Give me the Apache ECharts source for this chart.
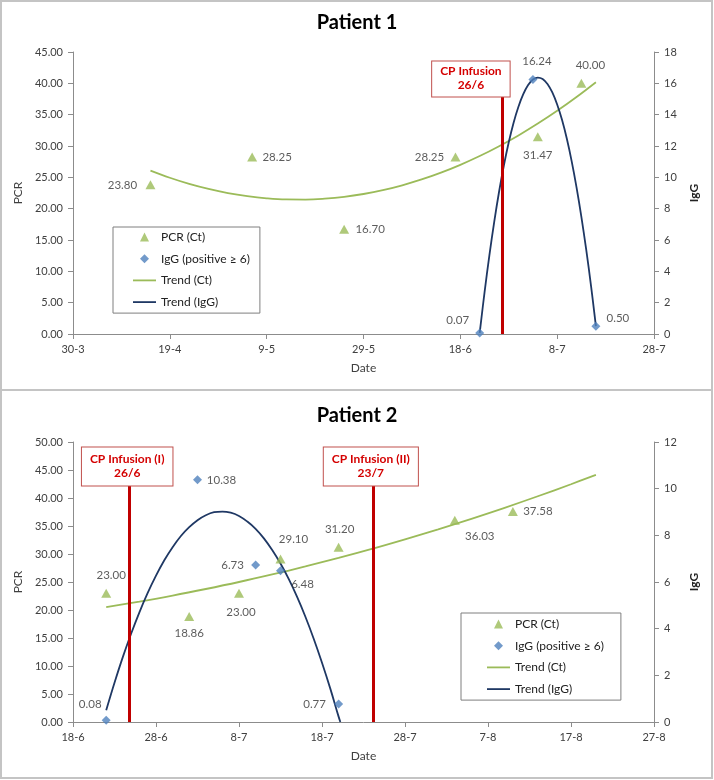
<!DOCTYPE html>
<html><head><meta charset="utf-8">
<script src="https://cdn.jsdelivr.net/npm/echarts@6/dist/echarts.min.js"></script>
<style>
html,body{margin:0;padding:0;background:#fff;width:714px;height:780px;overflow:hidden}
#c1,#c2{position:absolute;left:0;width:714px;height:390px}
#c1{top:0}#c2{top:390px}
.frame{position:absolute;border:2px solid #c4c4c4;box-sizing:border-box;pointer-events:none}
</style></head><body>
<div id="c1"></div><div id="c2"></div>
<div class="frame" style="left:0;top:0;width:713px;height:391px"></div>
<div class="frame" style="left:0;top:389px;width:713px;height:390px"></div>
<script>
const FONT = 'Lato, "Liberation Sans", sans-serif';
const SERIES_NAMES = ['PCR (Ct)', 'IgG (positive \u2265 6)', 'Trend (Ct)', 'Trend (IgG)'];

// ---------------- Patient 1 ----------------
const p1Title = 'Patient 1';
const p1AxisStart = '2020-03-30';
const p1AxisEnd = '2020-07-28';
const p1TickDays = 20;
const p1PcrMax = 45, p1PcrStep = 5, p1IggMax = 18, p1IggStep = 2;
const p1PcrDates = ['2020-04-15', '2020-05-06', '2020-05-25', '2020-06-17', '2020-07-04', '2020-07-13'];
const p1PcrValues = [23.80, 28.25, 16.70, 28.25, 31.47, 40.00];
const p1IggDates = ['2020-06-22', '2020-07-03', '2020-07-16'];
const p1IggValues = [0.07, 16.24, 0.50];
const p1TrendCtDates = ['2020-04-15', '2020-04-19', '2020-04-23', '2020-04-27', '2020-05-01', '2020-05-05', '2020-05-09', '2020-05-13', '2020-05-17', '2020-05-21', '2020-05-25', '2020-05-29', '2020-06-02', '2020-06-06', '2020-06-10', '2020-06-14', '2020-06-18', '2020-06-22', '2020-06-26', '2020-06-30', '2020-07-04', '2020-07-08', '2020-07-12', '2020-07-16'];
const p1TrendCtValues = [26.06, 24.93, 23.95, 23.14, 22.48, 21.99, 21.65, 21.47, 21.45, 21.59, 21.88, 22.34, 22.95, 23.73, 24.66, 25.75, 27.00, 28.40, 29.97, 31.69, 33.58, 35.62, 37.82, 40.18];
const p1TrendIggDates = ['2020-06-22', '2020-06-23', '2020-06-24', '2020-06-25', '2020-06-26', '2020-06-27', '2020-06-28', '2020-06-29', '2020-06-30', '2020-07-01', '2020-07-02', '2020-07-03', '2020-07-04', '2020-07-05', '2020-07-06', '2020-07-07', '2020-07-08', '2020-07-09', '2020-07-10', '2020-07-11', '2020-07-12', '2020-07-13', '2020-07-14', '2020-07-15', '2020-07-16'];
const p1TrendIggValues = [0.07, 2.66, 5.02, 7.16, 9.08, 10.77, 12.24, 13.49, 14.51, 15.31, 15.89, 16.24, 16.37, 16.28, 15.96, 15.42, 14.65, 13.67, 12.46, 11.02, 9.36, 7.48, 5.38, 3.05, 0.50];
const p1InfusionDates = ['2020-06-26T14:00'];
const p1InfusionLabels = ['CP Infusion\n26/6'];

// ---------------- Patient 2 ----------------
const p2Title = 'Patient 2';
const p2AxisStart = '2020-06-18';
const p2AxisEnd = '2020-08-27';
const p2TickDays = 10;
const p2PcrMax = 50, p2PcrStep = 5, p2IggMax = 12, p2IggStep = 2;
const p2PcrDates = ['2020-06-22', '2020-07-02', '2020-07-08', '2020-07-13', '2020-07-20', '2020-08-03', '2020-08-10'];
const p2PcrValues = [23.00, 18.86, 23.00, 29.10, 31.20, 36.03, 37.58];
const p2IggDates = ['2020-06-22', '2020-07-03', '2020-07-10', '2020-07-13', '2020-07-20'];
const p2IggValues = [0.08, 10.38, 6.73, 6.48, 0.77];
const p2TrendCtDates = ['2020-06-22', '2020-06-26', '2020-06-30', '2020-07-04', '2020-07-08', '2020-07-12', '2020-07-16', '2020-07-20', '2020-07-24', '2020-07-28', '2020-08-01', '2020-08-05', '2020-08-09', '2020-08-13', '2020-08-17', '2020-08-20'];
const p2TrendCtValues = [20.52, 21.51, 22.58, 23.75, 25.00, 26.35, 27.78, 29.30, 30.91, 32.62, 34.41, 36.29, 38.25, 40.31, 42.46, 44.13];
const p2TrendIggDates = ['2020-06-22', '2020-06-23', '2020-06-24', '2020-06-25', '2020-06-26', '2020-06-27', '2020-06-28', '2020-06-29', '2020-06-30', '2020-07-01', '2020-07-02', '2020-07-03', '2020-07-04', '2020-07-05', '2020-07-06', '2020-07-07', '2020-07-08', '2020-07-09', '2020-07-10', '2020-07-11', '2020-07-12', '2020-07-13', '2020-07-14', '2020-07-15', '2020-07-16', '2020-07-17', '2020-07-18', '2020-07-19', '2020-07-20', '2020-07-20T05:00'];
const p2TrendIggValues = [0.50, 1.68, 2.78, 3.78, 4.70, 5.53, 6.27, 6.93, 7.49, 7.97, 8.35, 8.65, 8.86, 8.99, 9.02, 8.97, 8.83, 8.59, 8.28, 7.87, 7.37, 6.79, 6.12, 5.36, 4.51, 3.57, 2.54, 1.43, 0.23, 0.00];
const p2InfusionDates = ['2020-06-24T18:30', '2020-07-24T03:00'];
const p2InfusionLabels = ['CP Infusion (I)\n26/6', 'CP Infusion (II)\n23/7'];

// ---------------- label placement and legend icons (style, not data) ----------------
const p1PcrLabelOffsets = [[-28, 0], [25, 0], [26, 0], [-26, 0], [0, 19], [9, -18]];
const p1IggLabelOffsets = [[-22, -13], [4, -18], [22, -8]];
const p2PcrLabelOffsets = [[5, -18], [0, 17], [2, 19], [13, -20], [1, -18], [25, 16], [25, 0]];
const p2IggLabelOffsets = [[-16, -16], [24, 0], [-23, 0], [22, 13], [-24, 0]];
const LEGEND_ICONS = [
  'path://M0,0 M23,9 M7,9 L11.5,0 L16,9 Z',
  'path://M0,0 M23,9 M11.5,0 L16,4.5 L11.5,9 L7,4.5 Z',
  'path://M0,0 M23,9 M0,3.6 L23,3.6 L23,5.4 L0,5.4 Z',
  'path://M0,0 M23,9 M0,3.6 L23,3.6 L23,5.4 L0,5.4 Z'
];

function toMs(s) { return Date.parse(s.length > 10 ? s + ':00Z' : s + 'T00:00:00Z'); }
function dayOf(s, start) { return (toMs(s) - toMs(start)) / 86400000; }

function makeOption(p) {
  const d = s => dayOf(s, p.start);
  const txt = '#404040';
  const axisCol = '#8c8c8c';
  const pts = (dates, vals, offs) => dates.map((s, i) => {
    const it = { value: [d(s), vals[i]] };
    if (offs) it.label = { offset: offs[i] };
    return it;
  });
  const ptLabel = {
    show: true, position: 'inside', color: '#333', fontSize: 11.5, fontFamily: FONT,
    formatter: q => q.value[1].toFixed(2)
  };
  return {
    animation: false,
    textStyle: { fontFamily: FONT },
    title: {
      text: p.title, left: 'center', top: p.titleTop, padding: 0,
      textStyle: { fontFamily: FONT, fontSize: 20, fontWeight: 'bold', color: '#000' }
    },
    grid: { left: 73, top: p.gridTop, width: 581, height: p.gridHeight },
    legend: {
      orient: 'vertical', left: p.legendLeft, top: p.legendTop,
      padding: p.legendPadding, itemGap: 9.7, itemWidth: 23, itemHeight: 9,
      borderColor: '#7f7f7f', borderWidth: 1, backgroundColor: '#fff',
      itemStyle: { borderWidth: 0 },
      textStyle: { fontFamily: FONT, fontSize: 12, color: '#222' },
      data: SERIES_NAMES.map((n, i) => ({ name: n, icon: LEGEND_ICONS[i] }))
    },
    xAxis: {
      type: 'value', min: 0, max: d(p.end), interval: p.tick,
      name: 'Date', nameLocation: 'middle', nameGap: 28,
      nameTextStyle: { color: txt, fontSize: 12, fontFamily: FONT },
      axisLine: { lineStyle: { color: axisCol } },
      axisTick: { show: true, length: 5, lineStyle: { color: axisCol } },
      axisLabel: {
        color: txt, fontSize: 11, margin: 10, fontFamily: FONT,
        formatter: v => { const t = new Date(toMs(p.start) + v * 86400000); return t.getUTCDate() + '-' + (t.getUTCMonth() + 1); }
      },
      splitLine: { show: false }
    },
    yAxis: [{
      type: 'value', min: 0, max: p.pcrMax, interval: p.pcrStep, position: 'left',
      name: 'PCR', nameLocation: 'middle', nameGap: 44,
      nameTextStyle: { color: txt, fontSize: 12, fontFamily: FONT },
      axisLine: { show: true, lineStyle: { color: axisCol } },
      axisTick: { show: true, length: 5, lineStyle: { color: axisCol } },
      axisLabel: { color: txt, fontSize: 11, margin: 10, fontFamily: FONT, formatter: v => v.toFixed(2) },
      splitLine: { show: false }
    }, {
      type: 'value', min: 0, max: p.iggMax, interval: p.iggStep, position: 'right',
      name: 'IgG', nameLocation: 'middle', nameGap: 30,
      nameTextStyle: { color: '#222', fontSize: 12, fontWeight: 'bold', fontFamily: FONT },
      axisLine: { show: true, lineStyle: { color: axisCol } },
      axisTick: { show: true, length: 5, lineStyle: { color: axisCol } },
      axisLabel: { color: txt, fontSize: 11, margin: 10, fontFamily: FONT },
      splitLine: { show: false }
    }],
    series: [{
      name: SERIES_NAMES[0], type: 'scatter', yAxisIndex: 0, z: 5,
      symbol: 'triangle', symbolSize: [10, 9],
      itemStyle: { color: '#9BBB59' },
      label: ptLabel,
      data: pts(p.pcrDates, p.pcrValues, p.pcrOffsets),
      markLine: {
        silent: true, symbol: 'none', animation: false, z: 4,
        lineStyle: { color: '#C00000', width: 3, type: 'solid' },
        label: {
          show: true, position: 'end', distance: 0, formatter: '{b}',
          color: '#D40000', fontWeight: 'bold', fontSize: 12, lineHeight: 14, fontFamily: FONT,
          backgroundColor: '#fff', borderColor: '#C0504D', borderWidth: 1, padding: p.boxPadding
        },
        data: p.infusionDates.map((s, i) => [
          { name: p.infusionLabels[i], coord: [d(s), 0], label: { offset: p.boxOffsets[i] } },
          { coord: [d(s), p.infusionTop] }
        ])
      }
    }, {
      name: SERIES_NAMES[1], type: 'scatter', yAxisIndex: 1, z: 6,
      symbol: 'diamond', symbolSize: [9, 9],
      itemStyle: { color: '#4F81BD' },
      label: ptLabel,
      data: pts(p.iggDates, p.iggValues, p.iggOffsets)
    }, {
      name: SERIES_NAMES[2], type: 'line', yAxisIndex: 0, z: 3,
      symbol: 'none', smooth: 0.4,
      lineStyle: { color: '#9BBB59', width: 1.8 }, itemStyle: { color: '#9BBB59' },
      data: pts(p.trendCtDates, p.trendCtValues)
    }, {
      name: SERIES_NAMES[3], type: 'line', yAxisIndex: 1, z: 3,
      symbol: 'none', smooth: 0.4,
      lineStyle: { color: '#1F3864', width: 1.8 }, itemStyle: { color: '#1F3864' },
      data: pts(p.trendIggDates, p.trendIggValues)
    }]
  };
}

const chart1 = echarts.init(document.getElementById('c1'), null, { renderer: 'canvas' });
chart1.setOption(makeOption({
  title: p1Title, titleTop: 13, start: p1AxisStart, end: p1AxisEnd, tick: p1TickDays,
  gridTop: 52, gridHeight: 282,
  pcrMax: p1PcrMax, pcrStep: p1PcrStep, iggMax: p1IggMax, iggStep: p1IggStep,
  pcrDates: p1PcrDates, pcrValues: p1PcrValues, pcrOffsets: p1PcrLabelOffsets,
  iggDates: p1IggDates, iggValues: p1IggValues, iggOffsets: p1IggLabelOffsets,
  trendCtDates: p1TrendCtDates, trendCtValues: p1TrendCtValues,
  trendIggDates: p1TrendIggDates, trendIggValues: p1TrendIggValues,
  infusionDates: p1InfusionDates, infusionLabels: p1InfusionLabels, infusionTop: 37.9,
  boxPadding: [3, 8, 4, 8], boxOffsets: [[-31, 0]],
  legendLeft: 113, legendTop: 227, legendPadding: [4, 10, 5, 20]
}));

const chart2 = echarts.init(document.getElementById('c2'), null, { renderer: 'canvas' });
chart2.setOption(makeOption({
  title: p2Title, titleTop: 16, start: p2AxisStart, end: p2AxisEnd, tick: p2TickDays,
  gridTop: 52, gridHeight: 280,
  pcrMax: p2PcrMax, pcrStep: p2PcrStep, iggMax: p2IggMax, iggStep: p2IggStep,
  pcrDates: p2PcrDates, pcrValues: p2PcrValues, pcrOffsets: p2PcrLabelOffsets,
  iggDates: p2IggDates, iggValues: p2IggValues, iggOffsets: p2IggLabelOffsets,
  trendCtDates: p2TrendCtDates, trendCtValues: p2TrendCtValues,
  trendIggDates: p2TrendIggDates, trendIggValues: p2TrendIggValues,
  infusionDates: p2InfusionDates, infusionLabels: p2InfusionLabels, infusionTop: 42.25,
  boxPadding: [5, 8, 5, 8], boxOffsets: [[-2, 0], [-2, 0]],
  legendLeft: 461, legendTop: 223, legendPadding: [5, 17, 5, 26]
}));
</script></body></html>
